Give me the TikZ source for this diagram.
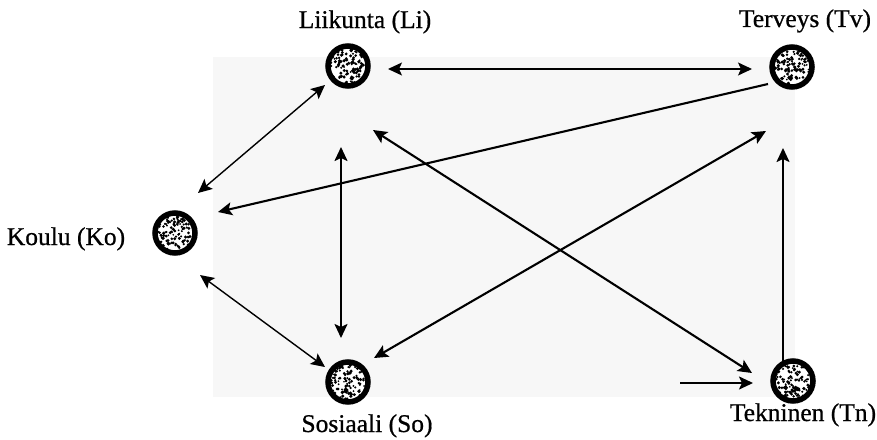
\documentclass[tikz,border=0pt]{standalone}
\usepackage{fontspec}
\setmainfont{Liberation Serif}
\newfontfamily\lblfont{Liberation Serif}[FakeBold=0.7]
\usetikzlibrary{arrows.meta}
\tikzset{
  ball/.style={circle, inner sep=0pt, minimum size=40pt, draw=black, line width=5.5pt, fill=white,
    path picture={
      \foreach \i in {1,...,120}{
        \pgfmathsetmacro{\rx}{rand*17}
        \pgfmathsetmacro{\ry}{rand*17}
        \pgfmathsetmacro{\rr}{0.9+rnd*0.9}
        \fill[black] ([xshift=\rx pt, yshift=\ry pt]path picture bounding box.center) circle (\rr pt);
      }
    }},
  lbl/.style={anchor=base, font=\lblfont\fontsize{25.5}{30}\selectfont},
  tip/.tip={Stealth[length=14pt, width=13pt, inset=3pt]},
  thinarr/.style={line width=1.4pt},
  thickarr/.style={line width=2.1pt},
}
\begin{document}
\begin{tikzpicture}[x=1pt, y=-1pt]
\pgfmathsetseed{4711}
\useasboundingbox (0,0) rectangle (877,439);
\fill[black!3] (213,57) rectangle (795,397);

% balls
\node[ball] (li) at (348,66) {};
\node[ball] (tv) at (792,67) {};
\node[ball] (ko) at (175,233) {};
\node[ball] (so) at (348,382) {};
\node[ball] (tn) at (793,381) {};

% labels
\node[lbl] (lilbl) at (365,28) {Liikunta (Li)};
\node[lbl] (tvlbl) at (805,27) {Terveys (Tv)};
\node[lbl] (kolbl) at (66,245) {Koulu (Ko)};
\node[lbl] (solbl) at (367,432) {Sosiaali (So)};
\node[lbl] (tnlbl) at (803,421) {Tekninen (Tn)};

% connector end points
\coordinate (litvA) at (388,69);
\coordinate (litvB) at (752,69);
\coordinate (likoA) at (325,85);
\coordinate (likoB) at (198,193);
\coordinate (kosoA) at (200,275);
\coordinate (kosoB) at (325,367);
\coordinate (tvkoA) at (768,84);
\coordinate (tvkoB) at (218,212);
\coordinate (vertA) at (341,147);
\coordinate (vertB) at (341,338);
\coordinate (xaA) at (373,130);
\coordinate (xaB) at (752,373);
\coordinate (xbA) at (374,358);
\coordinate (xbB) at (766,131);
\coordinate (tnupA) at (783,362);
\coordinate (tnupB) at (783,148);
\coordinate (inA) at (680,383);
\coordinate (inB) at (753,383);

% connectors
\draw[thinarr, {tip}-{tip}] (litvA) -- (litvB);
\draw[thinarr, {tip}-{tip}] (likoA) -- (likoB);
\draw[thinarr, {tip}-{tip}] (kosoA) -- (kosoB);
\draw[thickarr, -{tip}] (tvkoA) -- (tvkoB);
\draw[thickarr, {tip}-{tip}] (vertA) -- (vertB);
\draw[thickarr, {tip}-{tip}] (xaA) -- (xaB);
\draw[thickarr, {tip}-{tip}] (xbA) -- (xbB);
\draw[thickarr, -{tip}] (tnupA) -- (tnupB);
\draw[thickarr, -{tip}] (inA) -- (inB);
\end{tikzpicture}
\end{document}
